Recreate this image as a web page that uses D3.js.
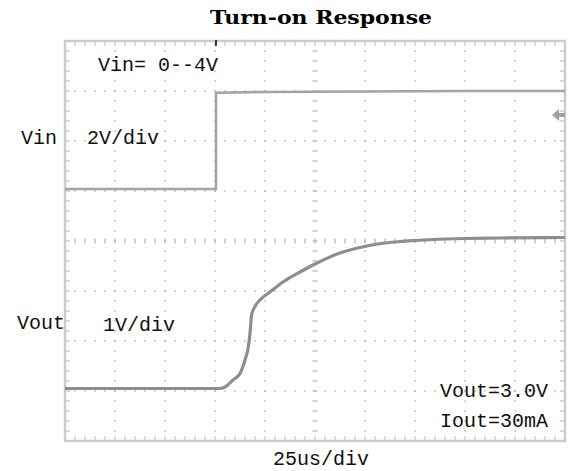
<!DOCTYPE html>
<html>
<head>
<meta charset="utf-8">
<script src="https://cdn.jsdelivr.net/npm/d3@7"></script>
<style>
  html, body { margin: 0; padding: 0; background: #fff; }
  svg { display: block; }
  .lbl { font-family: "Liberation Mono", "DejaVu Sans Mono", monospace; font-size: 20px; fill: #111; }
  .title { font-family: "DejaVu Serif", serif; font-weight: bold; font-size: 19px; fill: #000; }
</style>
</head>
<body>
<svg id="chart" width="569" height="471"></svg>
<script>
const title = 'Turn-on Response';
const timeDomain = [0, 250];   // us, 25us/div, 10 divisions
const divDomain = [-4, 4];     // 8 vertical divisions

// channel 1: Vin, 2V/div
const vinTime = [0, 75.5, 75.5, 100, 150, 200, 250];
const vinVolts = [0, 0, 3.85, 3.88, 3.9, 3.92, 3.92];
// channel 2: Vout, 1V/div
const voutTime = [0, 77.5, 80, 84, 87.5, 90, 91.7, 92.5, 93.3, 95, 97.5, 102.5, 109, 117.5, 126, 137.5, 151, 160, 167.5, 175, 184, 200, 217.5, 250];
const voutVolts = [0, 0, 0.03, 0.17, 0.3, 0.57, 0.84, 1.1, 1.47, 1.64, 1.77, 1.93, 2.13, 2.33, 2.51, 2.71, 2.85, 2.91, 2.94, 2.96, 2.98, 3.0, 3.01, 3.02];

const channels = [
    { name: 'Vin', scale: '2V/div', voltsPerDiv: 2, offset: 1.04, t: vinTime, v: vinVolts, color: '#a4a4a4', width: 2.6 },
    { name: 'Vout', scale: '1V/div', voltsPerDiv: 1, offset: -2.95, t: voutTime, v: voutVolts, color: '#8e8e8e', width: 3.2 }
];

const notes = [
    { text: 'Vin= 0--4V', x: 98, y: 71 },
    { text: 'Vin', x: 21, y: 144 },
    { text: '2V/div', x: 87, y: 144 },
    { text: 'Vout', x: 17, y: 329 },
    { text: '1V/div', x: 103, y: 331 },
    { text: 'Vout=3.0V', x: 440, y: 397 },
    { text: 'Iout=30mA', x: 440, y: 427 },
    { text: '25us/div', x: 273, y: 465 }
];

const svg = d3.select('#chart');
const margin = { top: 41, right: 4, bottom: 30, left: 65 };
const width = 569, height = 471;

const x = d3.scaleLinear().domain(timeDomain).range([margin.left, width - margin.right]);
const y = d3.scaleLinear().domain(divDomain).range([height - margin.bottom, margin.top]);

const majorX = d3.range(0, 251, 25);
const majorY = d3.range(-4, 5, 1);
const minorX = d3.range(0, 250.1, 5);
const minorY = d3.range(-4, 4.01, 0.2);

const grid = svg.append('g').attr('fill', '#b4b4b4');

// dotted graticule
majorX.slice(1, -1).forEach(t => {
    if (t === 125) return;
    grid.selectAll(null).data(minorY).enter().append('rect')
        .attr('x', x(t) - 0.75).attr('y', d => y(d) - 0.75)
        .attr('width', 1.5).attr('height', 1.5);
});
majorY.slice(1, -1).forEach(d => {
    if (d === 0) return;
    grid.selectAll(null).data(minorX).enter().append('rect')
        .attr('x', t => x(t) - 0.75).attr('y', y(d) - 0.75)
        .attr('width', 1.5).attr('height', 1.5);
});

// center axes with small dashes
grid.selectAll(null).data(minorY).enter().append('rect')
    .attr('x', x(125) - 2.5).attr('y', d => y(d) - 0.6)
    .attr('width', 5).attr('height', 1.2);
grid.selectAll(null).data(minorX).enter().append('rect')
    .attr('x', t => x(t) - 0.6).attr('y', y(0) - 2.5)
    .attr('width', 1.2).attr('height', 5);

// frame ticks
const ticks = svg.append('g').attr('stroke', '#c4c4c4').attr('stroke-width', 1.2);
ticks.selectAll(null).data(minorX).enter().append('line')
    .attr('x1', x).attr('x2', x).attr('y1', y(4)).attr('y2', y(4) + 5);
ticks.selectAll(null).data(minorX).enter().append('line')
    .attr('x1', x).attr('x2', x).attr('y1', y(-4)).attr('y2', y(-4) - 5);
ticks.selectAll(null).data(minorY).enter().append('line')
    .attr('x1', x(0)).attr('x2', x(0) + 5).attr('y1', y).attr('y2', y);
ticks.selectAll(null).data(minorY).enter().append('line')
    .attr('x1', x(250)).attr('x2', x(250) - 5).attr('y1', y).attr('y2', y);

svg.append('rect')
    .attr('x', x(0)).attr('y', y(4))
    .attr('width', x(250) - x(0)).attr('height', y(-4) - y(4))
    .attr('fill', 'none').attr('stroke', '#cccccc').attr('stroke-width', 2.5);

// trigger position marker and level arrow
svg.append('line')
    .attr('x1', x(75.5)).attr('x2', x(75.5)).attr('y1', y(4) - 1).attr('y2', y(4) + 5)
    .attr('stroke', '#000').attr('stroke-width', 1.5);
svg.append('path')
    .attr('d', `M${x(250) - 13},${y(2.52)} l7,-6 v4 h6 v4 h-6 v4 z`)
    .attr('fill', '#a0a0a0');

// traces
channels.forEach(ch => {
    const pts = ch.t.map((t, i) => [t, ch.offset + ch.v[i] / ch.voltsPerDiv]);
    const line = d3.line()
        .x(d => x(d[0]))
        .y(d => y(d[1]))
        .curve(ch.name === 'Vin' ? d3.curveLinear : d3.curveMonotoneX);
    svg.append('path')
        .datum(pts)
        .attr('d', line)
        .attr('fill', 'none')
        .attr('stroke', ch.color)
        .attr('stroke-width', ch.width)
        .attr('stroke-linejoin', 'round');
});

svg.append('text')
    .attr('class', 'title')
    .attr('x', 321).attr('y', 24)
    .attr('text-anchor', 'middle')
    .attr('textLength', 222)
    .attr('lengthAdjust', 'spacingAndGlyphs')
    .text(title);

svg.selectAll('text.lbl')
    .data(notes)
    .enter()
    .append('text')
    .attr('class', 'lbl')
    .attr('x', d => d.x)
    .attr('y', d => d.y)
    .text(d => d.text);
</script>
</body>
</html>
